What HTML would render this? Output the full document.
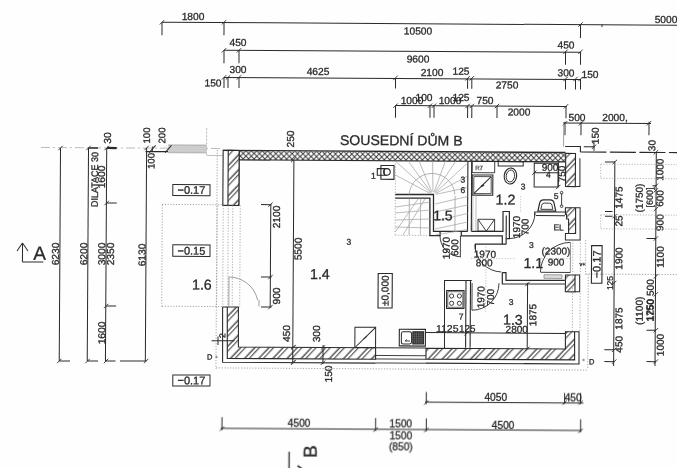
<!DOCTYPE html>
<html lang="cs"><head><meta charset="utf-8"><title>Půdorys 1.NP</title>
<style>
html,body{margin:0;padding:0;background:#fff;}
body{width:677px;height:468px;overflow:hidden;}
svg{display:block;font-family:"Liberation Sans",sans-serif;}
text{stroke:#2a2a2a;stroke-width:.3px;}
</style></head><body>
<svg width="677" height="468" viewBox="0 0 677 468">
<rect width="677" height="468" fill="#fefefe"/>
<defs>
<pattern id="h" patternUnits="userSpaceOnUse" width="4" height="10.3" patternTransform="rotate(-47)"><rect width="4" height="10.3" fill="#fff"/><path d="M0 2 H4 M0 5.3 H4" stroke="#2a2a2a" stroke-width="1" fill="none"/></pattern>
<pattern id="x" patternUnits="userSpaceOnUse" x="294.3" y="156.7" width="5.43" height="5.43"><rect width="5.43" height="5.43" fill="#fff"/><path d="M-1 -1 L6.43 6.43 M6.43 -1 L-1 6.43" stroke="#3a3a3a" stroke-width="1.0" fill="none"/></pattern>
<pattern id="g" patternUnits="userSpaceOnUse" width="2" height="2"><rect width="2" height="2" fill="#dedede"/><rect width="1" height="1" fill="#b4b4b4"/><rect x="1" y="1" width="1" height="1" fill="#c4c4c4"/></pattern>
<pattern id="d" patternUnits="userSpaceOnUse" width="1.8" height="1.8"><rect width="1.8" height="1.8" fill="#5a5a5a"/><rect width="0.9" height="0.9" fill="#1c1c1c"/></pattern>
<filter id="b" x="0" y="0" width="677" height="468" filterUnits="userSpaceOnUse"><feGaussianBlur stdDeviation="0.35"/></filter>
</defs>
<g filter="url(#b)"><g transform="rotate(0.344 338 234)">
<line x1="160.73" y1="23.26" x2="675.73" y2="23.26" stroke="#2a2a2a" stroke-width="1"/>
<line x1="160.77" y1="23.36" x2="160.77" y2="36.36" stroke="#2a2a2a" stroke-width="1"/>
<line x1="158.54" y1="25.57" x2="162.92" y2="21.14" stroke="#2a2a2a" stroke-width="0.9"/>
<line x1="222.77" y1="22.98" x2="222.77" y2="35.98" stroke="#2a2a2a" stroke-width="1"/>
<line x1="220.54" y1="25.2" x2="224.92" y2="20.77" stroke="#2a2a2a" stroke-width="0.9"/>
<line x1="579.28" y1="23.05" x2="579.28" y2="36.55" stroke="#2a2a2a" stroke-width="1"/>
<line x1="577.06" y1="25.26" x2="581.43" y2="20.83" stroke="#2a2a2a" stroke-width="0.9"/>
<line x1="600.75" y1="23.02" x2="600.75" y2="25.42" stroke="#2a2a2a" stroke-width="1"/>
<text x="191.72" y="20.87" font-size="10.2" text-anchor="middle" fill="#2a2a2a">1800</text>
<text x="416.8" y="34.02" font-size="10.2" text-anchor="middle" fill="#2a2a2a">10500</text>
<text x="664.73" y="21.03" font-size="10.2" text-anchor="middle" fill="#2a2a2a">5000</text>
<line x1="222.9" y1="50.88" x2="579.4" y2="50.88" stroke="#2a2a2a" stroke-width="1"/>
<line x1="222.94" y1="50.98" x2="222.94" y2="63.98" stroke="#2a2a2a" stroke-width="1"/>
<line x1="220.71" y1="53.2" x2="225.08" y2="48.77" stroke="#2a2a2a" stroke-width="0.9"/>
<line x1="237.94" y1="50.89" x2="237.94" y2="63.89" stroke="#2a2a2a" stroke-width="1"/>
<line x1="235.71" y1="53.11" x2="240.08" y2="48.68" stroke="#2a2a2a" stroke-width="0.9"/>
<line x1="564.45" y1="50.43" x2="564.45" y2="63.43" stroke="#2a2a2a" stroke-width="1"/>
<line x1="562.22" y1="52.65" x2="566.59" y2="48.22" stroke="#2a2a2a" stroke-width="0.9"/>
<line x1="579.45" y1="50.34" x2="579.45" y2="63.34" stroke="#2a2a2a" stroke-width="1"/>
<line x1="577.22" y1="52.56" x2="581.59" y2="48.13" stroke="#2a2a2a" stroke-width="0.9"/>
<text x="236.87" y="46.6" font-size="10.2" text-anchor="middle" fill="#2a2a2a">450</text>
<text x="416.97" y="62.12" font-size="10.2" text-anchor="middle" fill="#2a2a2a">9600</text>
<text x="564.89" y="47.23" font-size="10.2" text-anchor="middle" fill="#2a2a2a">450</text>
<line x1="223.06" y1="78.08" x2="579.56" y2="78.08" stroke="#2a2a2a" stroke-width="1"/>
<line x1="223.09" y1="78.08" x2="223.09" y2="88.58" stroke="#2a2a2a" stroke-width="1"/>
<line x1="220.87" y1="80.3" x2="225.25" y2="75.87" stroke="#2a2a2a" stroke-width="0.9"/>
<line x1="227.09" y1="78.06" x2="227.09" y2="88.56" stroke="#2a2a2a" stroke-width="1"/>
<line x1="224.87" y1="80.27" x2="229.25" y2="75.85" stroke="#2a2a2a" stroke-width="0.9"/>
<line x1="238.09" y1="77.99" x2="238.09" y2="88.49" stroke="#2a2a2a" stroke-width="1"/>
<line x1="235.87" y1="80.21" x2="240.25" y2="75.78" stroke="#2a2a2a" stroke-width="0.9"/>
<line x1="394.59" y1="77.56" x2="394.59" y2="88.06" stroke="#2a2a2a" stroke-width="1"/>
<line x1="392.38" y1="79.77" x2="396.75" y2="75.34" stroke="#2a2a2a" stroke-width="0.9"/>
<line x1="466.7" y1="77.52" x2="466.7" y2="88.02" stroke="#2a2a2a" stroke-width="1"/>
<line x1="464.48" y1="79.74" x2="468.85" y2="75.31" stroke="#2a2a2a" stroke-width="0.9"/>
<line x1="470.9" y1="77.5" x2="470.9" y2="88" stroke="#2a2a2a" stroke-width="1"/>
<line x1="468.68" y1="79.71" x2="473.05" y2="75.28" stroke="#2a2a2a" stroke-width="0.9"/>
<line x1="564.6" y1="77.64" x2="564.6" y2="88.14" stroke="#2a2a2a" stroke-width="1"/>
<line x1="562.38" y1="79.85" x2="566.76" y2="75.42" stroke="#2a2a2a" stroke-width="0.9"/>
<line x1="574.6" y1="77.58" x2="574.6" y2="88.08" stroke="#2a2a2a" stroke-width="1"/>
<line x1="572.38" y1="79.79" x2="576.76" y2="75.36" stroke="#2a2a2a" stroke-width="0.9"/>
<line x1="579.6" y1="77.55" x2="579.6" y2="88.05" stroke="#2a2a2a" stroke-width="1"/>
<line x1="577.38" y1="79.76" x2="581.76" y2="75.33" stroke="#2a2a2a" stroke-width="0.9"/>
<text x="212.12" y="87.25" font-size="10.2" text-anchor="middle" fill="#2a2a2a">150</text>
<text x="237.03" y="73.6" font-size="10.2" text-anchor="middle" fill="#2a2a2a">300</text>
<text x="317.05" y="75.12" font-size="10.2" text-anchor="middle" fill="#2a2a2a">4625</text>
<text x="431.05" y="75.44" font-size="10.2" text-anchor="middle" fill="#2a2a2a">2100</text>
<text x="460.04" y="73.96" font-size="10.2" text-anchor="middle" fill="#2a2a2a">125</text>
<text x="506.13" y="87.59" font-size="10.2" text-anchor="middle" fill="#2a2a2a">2750</text>
<text x="565.05" y="75.03" font-size="10.2" text-anchor="middle" fill="#2a2a2a">300</text>
<text x="589.06" y="76.49" font-size="10.2" text-anchor="middle" fill="#2a2a2a">150</text>
<line x1="394.73" y1="105.25" x2="565.93" y2="105.25" stroke="#2a2a2a" stroke-width="1"/>
<line x1="394.77" y1="105.36" x2="394.77" y2="117.36" stroke="#2a2a2a" stroke-width="1"/>
<line x1="392.54" y1="107.57" x2="396.92" y2="103.14" stroke="#2a2a2a" stroke-width="0.9"/>
<line x1="429.27" y1="105.15" x2="429.27" y2="117.15" stroke="#2a2a2a" stroke-width="1"/>
<line x1="427.04" y1="107.36" x2="431.42" y2="102.93" stroke="#2a2a2a" stroke-width="0.9"/>
<line x1="433.27" y1="105.12" x2="433.27" y2="117.12" stroke="#2a2a2a" stroke-width="1"/>
<line x1="431.04" y1="107.34" x2="435.42" y2="102.91" stroke="#2a2a2a" stroke-width="0.9"/>
<line x1="466.87" y1="105.22" x2="466.87" y2="117.22" stroke="#2a2a2a" stroke-width="1"/>
<line x1="464.65" y1="107.44" x2="469.02" y2="103.01" stroke="#2a2a2a" stroke-width="0.9"/>
<line x1="471.07" y1="105.2" x2="471.07" y2="117.2" stroke="#2a2a2a" stroke-width="1"/>
<line x1="468.85" y1="107.41" x2="473.22" y2="102.98" stroke="#2a2a2a" stroke-width="0.9"/>
<line x1="496.27" y1="105.05" x2="496.27" y2="117.05" stroke="#2a2a2a" stroke-width="1"/>
<line x1="494.05" y1="107.26" x2="498.42" y2="102.83" stroke="#2a2a2a" stroke-width="0.9"/>
<line x1="565.27" y1="104.93" x2="565.27" y2="116.93" stroke="#2a2a2a" stroke-width="1"/>
<line x1="563.05" y1="107.15" x2="567.42" y2="102.72" stroke="#2a2a2a" stroke-width="0.9"/>
<text x="411.22" y="103.56" font-size="10.2" text-anchor="middle" fill="#2a2a2a">1000</text>
<text x="423.2" y="100.48" font-size="10.2" text-anchor="middle" fill="#2a2a2a">100</text>
<text x="449.22" y="103.33" font-size="10.2" text-anchor="middle" fill="#2a2a2a">1000</text>
<text x="460.2" y="100.26" font-size="10.2" text-anchor="middle" fill="#2a2a2a">125</text>
<text x="484.22" y="103.12" font-size="10.2" text-anchor="middle" fill="#2a2a2a">750</text>
<text x="518.29" y="114.41" font-size="10.2" text-anchor="middle" fill="#2a2a2a">2000</text>
<line x1="562.34" y1="121.69" x2="650.34" y2="121.69" stroke="#2a2a2a" stroke-width="1"/>
<line x1="564.37" y1="120.44" x2="564.37" y2="133.94" stroke="#2a2a2a" stroke-width="1"/>
<line x1="562.15" y1="124.15" x2="566.52" y2="119.72" stroke="#2a2a2a" stroke-width="0.9"/>
<line x1="580.37" y1="120.34" x2="580.37" y2="133.84" stroke="#2a2a2a" stroke-width="1"/>
<line x1="578.15" y1="124.06" x2="582.52" y2="119.63" stroke="#2a2a2a" stroke-width="0.9"/>
<line x1="648.37" y1="119.93" x2="648.37" y2="133.43" stroke="#2a2a2a" stroke-width="1"/>
<line x1="646.15" y1="123.65" x2="650.52" y2="119.22" stroke="#2a2a2a" stroke-width="0.9"/>
<text x="576.32" y="119.57" font-size="10.2" text-anchor="middle" fill="#2a2a2a">500</text>
<text x="614.32" y="119.34" font-size="10.2" text-anchor="middle" fill="#2a2a2a">2000,</text>
<line x1="40.48" y1="149.24" x2="222.48" y2="149.24" stroke="#b5b5b5" stroke-width="0.9" stroke-dasharray="9 3 2 3"/>
<line x1="60" y1="149.66" x2="60" y2="362.67" stroke="#2a2a2a" stroke-width="1"/>
<line x1="88" y1="149.5" x2="88" y2="362.5" stroke="#2a2a2a" stroke-width="1"/>
<line x1="106.2" y1="149.39" x2="106.2" y2="362.39" stroke="#2a2a2a" stroke-width="1"/>
<line x1="146.1" y1="149.15" x2="146.1" y2="362.15" stroke="#2a2a2a" stroke-width="1"/>
<line x1="60.06" y1="362.64" x2="70.76" y2="362.64" stroke="#2a2a2a" stroke-width="1"/>
<line x1="88.36" y1="362.47" x2="98.76" y2="362.47" stroke="#2a2a2a" stroke-width="1"/>
<line x1="106.76" y1="362.36" x2="116.26" y2="362.36" stroke="#2a2a2a" stroke-width="1"/>
<line x1="120.76" y1="362.23" x2="146.96" y2="362.23" stroke="#2a2a2a" stroke-width="1"/>
<line x1="57.88" y1="364.89" x2="62.25" y2="360.46" stroke="#2a2a2a" stroke-width="0.9"/>
<line x1="86.18" y1="364.72" x2="90.55" y2="360.29" stroke="#2a2a2a" stroke-width="0.9"/>
<line x1="104.58" y1="364.61" x2="108.95" y2="360.18" stroke="#2a2a2a" stroke-width="0.9"/>
<line x1="144.78" y1="364.36" x2="149.15" y2="359.94" stroke="#2a2a2a" stroke-width="0.9"/>
<line x1="57.8" y1="151.88" x2="62.17" y2="147.45" stroke="#2a2a2a" stroke-width="0.9"/>
<line x1="85.8" y1="151.71" x2="90.17" y2="147.28" stroke="#2a2a2a" stroke-width="0.9"/>
<line x1="104" y1="151.6" x2="108.37" y2="147.17" stroke="#2a2a2a" stroke-width="0.9"/>
<line x1="143.9" y1="151.36" x2="148.27" y2="146.94" stroke="#2a2a2a" stroke-width="0.9"/>
<line x1="87.98" y1="149.47" x2="97.48" y2="149.47" stroke="#2a2a2a" stroke-width="1.6"/>
<line x1="106.48" y1="149.36" x2="116.18" y2="149.36" stroke="#2a2a2a" stroke-width="2.2"/>
<line x1="106.51" y1="204.36" x2="116.51" y2="204.36" stroke="#2a2a2a" stroke-width="1"/>
<line x1="104.33" y1="206.6" x2="108.7" y2="202.17" stroke="#2a2a2a" stroke-width="0.9"/>
<line x1="106.63" y1="307.36" x2="116.63" y2="307.36" stroke="#2a2a2a" stroke-width="1"/>
<line x1="104.45" y1="309.6" x2="108.82" y2="305.18" stroke="#2a2a2a" stroke-width="0.9"/>
<text x="110.42" y="139.36" font-size="10.2" text-anchor="middle" fill="#2a2a2a" transform="rotate(-90 110.42 139.36)">30</text>
<text x="97.67" y="180.94" font-size="9.5" text-anchor="middle" fill="#2a2a2a" transform="rotate(-90 97.67 180.94)" textLength="55" lengthAdjust="spacingAndGlyphs">DILATACE 30</text>
<text x="104.66" y="178.4" font-size="10.2" text-anchor="middle" fill="#2a2a2a" transform="rotate(-90 104.66 178.4)">1600</text>
<text x="59.12" y="255.67" font-size="10.2" text-anchor="middle" fill="#2a2a2a" transform="rotate(-90 59.12 255.67)">6230</text>
<text x="87.42" y="255.5" font-size="10.2" text-anchor="middle" fill="#2a2a2a" transform="rotate(-90 87.42 255.5)">6200</text>
<text x="105.42" y="255.4" font-size="10.2" text-anchor="middle" fill="#2a2a2a" transform="rotate(-90 105.42 255.4)">3000</text>
<text x="114.12" y="255.34" font-size="10.2" text-anchor="middle" fill="#2a2a2a" transform="rotate(-90 114.12 255.34)">2350</text>
<text x="145.63" y="256.15" font-size="10.2" text-anchor="middle" fill="#2a2a2a" transform="rotate(-90 145.63 256.15)">6130</text>
<text x="105.89" y="334.4" font-size="10.2" text-anchor="middle" fill="#2a2a2a" transform="rotate(-90 105.89 334.4)">1600</text>
<text x="149.41" y="136.63" font-size="9.6" text-anchor="middle" fill="#2a2a2a" transform="rotate(-90 149.41 136.63)">100</text>
<text x="164.61" y="136.54" font-size="9.6" text-anchor="middle" fill="#2a2a2a" transform="rotate(-90 164.61 136.54)">200</text>
<text x="154.16" y="162.1" font-size="9.6" text-anchor="middle" fill="#2a2a2a" transform="rotate(-90 154.16 162.1)">100</text>
<line x1="22.61" y1="244.89" x2="22.61" y2="263.89" stroke="#2a2a2a" stroke-width="1"/>
<line x1="22.55" y1="244.89" x2="17.1" y2="252.93" stroke="#2a2a2a" stroke-width="1"/>
<line x1="22.55" y1="244.89" x2="28.1" y2="252.86" stroke="#2a2a2a" stroke-width="1"/>
<line x1="22.67" y1="263.83" x2="43.47" y2="263.83" stroke="#2a2a2a" stroke-width="1"/>
<text x="33.35" y="261.63" font-size="19" text-anchor="start" fill="#2a2a2a">A</text>
<rect x="167.59" y="145.91" width="38.1" height="7.8" fill="url(#g)" stroke="none" stroke-width="0"/>
<line x1="167.57" y1="145.91" x2="205.67" y2="145.91" stroke="#999" stroke-width="0.7"/>
<line x1="167.61" y1="153.71" x2="205.71" y2="153.71" stroke="#999" stroke-width="0.7"/>
<line x1="145.01" y1="152.69" x2="167.51" y2="152.69" stroke="#2a2a2a" stroke-width="1.2"/>
<line x1="148.71" y1="153.73" x2="155.07" y2="146.49" stroke="#2a2a2a" stroke-width="1"/>
<line x1="164.61" y1="153.64" x2="170.97" y2="146.4" stroke="#2a2a2a" stroke-width="1"/>
<line x1="151.89" y1="147.61" x2="151.89" y2="152.71" stroke="#2a2a2a" stroke-width="0.9"/>
<line x1="206.05" y1="128.79" x2="206.05" y2="156.29" stroke="#b0b0b0" stroke-width="0.8" stroke-dasharray="2.5 1"/>
<line x1="206.13" y1="156.24" x2="222.53" y2="156.24" stroke="#b0b0b0" stroke-width="0.8"/>
<polygon points="238.5,151.59 565.01,151.63 565.07,160.44 238.55,160.39" fill="url(#x)" stroke="none" stroke-width="0"/>
<line x1="222.5" y1="151.09" x2="565" y2="151.09" stroke="#2a2a2a" stroke-width="1.4"/>
<line x1="238.56" y1="160.49" x2="565.06" y2="160.49" stroke="#2a2a2a" stroke-width="1.1"/>
<rect x="222.66" y="151.04" width="16" height="55" fill="none" stroke="#2a2a2a" stroke-width="1.1"/>
<rect x="227.76" y="151.03" width="10.9" height="55" fill="url(#h)" stroke="#2a2a2a" stroke-width="1.1"/>
<polygon points="227.74,307.66 238.84,307.6 239.08,347.6 376.28,347.57 376.35,358.97 228.05,359.06" fill="url(#h)" stroke="#2a2a2a" stroke-width="1.1"/>
<polyline points="223.04,307.69 227.74,307.66" fill="none" stroke="#2a2a2a" stroke-width="1.1"/>
<polyline points="223.04,307.69 223.37,362.89 376.37,362.87" fill="none" stroke="#2a2a2a" stroke-width="1.1"/>
<polygon points="426.69,347.67 566.09,347.64 565.99,330.34 575.19,330.28 575.36,358.48 426.75,358.57" fill="url(#h)" stroke="#2a2a2a" stroke-width="1.1"/>
<polyline points="426.77,362.57 579.78,362.55 579.59,330.25 575.19,330.28" fill="none" stroke="#2a2a2a" stroke-width="1.1"/>
<line x1="376.28" y1="347.52" x2="426.68" y2="347.52" stroke="#2a2a2a" stroke-width="1"/>
<line x1="376.33" y1="355.22" x2="426.73" y2="355.22" stroke="#2a2a2a" stroke-width="0.9"/>
<line x1="376.35" y1="358.72" x2="426.75" y2="358.72" stroke="#2a2a2a" stroke-width="0.9"/>
<line x1="376.37" y1="362.72" x2="426.77" y2="362.72" stroke="#2a2a2a" stroke-width="0.9"/>
<rect x="565.22" y="152" width="9.8" height="33.2" fill="url(#h)" stroke="#2a2a2a" stroke-width="1.1"/>
<polyline points="579.45,156.85 579.62,185.15 575.12,185.18" fill="none" stroke="#2a2a2a" stroke-width="1"/>
<polygon points="565.24,206.44 575.44,206.37 575.6,232.07 568.6,232.12 568.51,217.62 566.51,217.63 566.48,213.03 565.28,213.04" fill="url(#h)" stroke="#2a2a2a" stroke-width="1.1"/>
<polyline points="575.44,206.37 579.94,206.35 580.14,238.45 565.44,238.54 565.4,232.14 568.6,232.12" fill="none" stroke="#2a2a2a" stroke-width="1"/>
<rect x="565.7" y="273.61" width="9.6" height="16.8" fill="url(#h)" stroke="#2a2a2a" stroke-width="1.1"/>
<polyline points="575.25,273.58 579.85,273.55 579.95,290.35 575.35,290.38" fill="none" stroke="#2a2a2a" stroke-width="1"/>
<line x1="563.01" y1="122.65" x2="563.01" y2="145.15" stroke="#999" stroke-width="0.9"/>
<polyline points="564.58,145.14 579.88,145.05 579.91,150.55" fill="none" stroke="#2a2a2a" stroke-width="1.1"/>
<line x1="579.91" y1="150.53" x2="676.51" y2="150.53" stroke="#2a2a2a" stroke-width="1.2" stroke-dasharray="26 3.5"/>
<line x1="583.28" y1="145.29" x2="593.98" y2="145.29" stroke="#2a2a2a" stroke-width="1"/>
<line x1="593.48" y1="140.66" x2="593.48" y2="149.26" stroke="#2a2a2a" stroke-width="1"/>
<line x1="591.29" y1="147.48" x2="595.66" y2="143.05" stroke="#2a2a2a" stroke-width="0.9"/>
<line x1="293.46" y1="160.27" x2="293.46" y2="362.77" stroke="#2a2a2a" stroke-width="1"/>
<line x1="290.57" y1="162.48" x2="295.14" y2="158.05" stroke="#2a2a2a" stroke-width="0.9"/>
<line x1="291.69" y1="349.68" x2="296.27" y2="345.25" stroke="#2a2a2a" stroke-width="1"/>
<line x1="291.78" y1="364.88" x2="296.36" y2="360.45" stroke="#2a2a2a" stroke-width="1"/>
<text x="293.43" y="139.26" font-size="10.2" text-anchor="middle" fill="#2a2a2a" transform="rotate(-90 293.43 139.26)">250</text>
<text x="301.69" y="249.22" font-size="10.2" text-anchor="middle" fill="#2a2a2a" transform="rotate(-90 301.69 249.22)">5500</text>
<text x="290.6" y="333.89" font-size="10.2" text-anchor="middle" fill="#2a2a2a" transform="rotate(-90 290.6 333.89)">450</text>
<line x1="323.72" y1="345.09" x2="323.72" y2="364.09" stroke="#2a2a2a" stroke-width="1"/>
<line x1="321.49" y1="349.8" x2="325.87" y2="345.38" stroke="#2a2a2a" stroke-width="0.9"/>
<line x1="321.59" y1="365" x2="325.96" y2="360.58" stroke="#2a2a2a" stroke-width="0.9"/>
<text x="320.6" y="333.91" font-size="10.2" text-anchor="middle" fill="#2a2a2a" transform="rotate(-90 320.6 333.91)">300</text>
<text x="332.84" y="374.04" font-size="10.2" text-anchor="middle" fill="#2a2a2a" transform="rotate(-90 332.84 374.04)">150</text>
<line x1="270.63" y1="205" x2="270.63" y2="307.4" stroke="#2a2a2a" stroke-width="1"/>
<line x1="260.82" y1="205.03" x2="271.32" y2="205.03" stroke="#2a2a2a" stroke-width="1"/>
<line x1="268.14" y1="207.22" x2="272.51" y2="202.79" stroke="#2a2a2a" stroke-width="0.9"/>
<line x1="261.26" y1="277.43" x2="271.76" y2="277.43" stroke="#2a2a2a" stroke-width="1"/>
<line x1="268.57" y1="279.62" x2="272.94" y2="275.19" stroke="#2a2a2a" stroke-width="0.9"/>
<line x1="261.44" y1="307.43" x2="271.94" y2="307.43" stroke="#2a2a2a" stroke-width="1"/>
<line x1="268.75" y1="309.62" x2="273.12" y2="305.19" stroke="#2a2a2a" stroke-width="0.9"/>
<text x="279.9" y="217.35" font-size="10.2" text-anchor="middle" fill="#2a2a2a" transform="rotate(-90 279.9 217.35)">2100</text>
<text x="280.37" y="296.35" font-size="10.2" text-anchor="middle" fill="#2a2a2a" transform="rotate(-90 280.37 296.35)">900</text>
<rect x="172.54" y="185.48" width="37.2" height="11" fill="none" stroke="#2a2a2a" stroke-width="1"/>
<text x="191.16" y="194.68" font-size="11" text-anchor="middle" fill="#2a2a2a">−0.17</text>
<rect x="172.9" y="245.78" width="37.2" height="11.5" fill="none" stroke="#2a2a2a" stroke-width="1"/>
<text x="191.52" y="255.48" font-size="11" text-anchor="middle" fill="#2a2a2a">−0.15</text>
<rect x="173.68" y="375.88" width="37.2" height="11" fill="none" stroke="#2a2a2a" stroke-width="1"/>
<text x="192.3" y="385.08" font-size="11" text-anchor="middle" fill="#2a2a2a">−0.17</text>
<text x="192.33" y="290.38" font-size="14.2" text-anchor="start" fill="#2a2a2a">1.6</text>
<line x1="161.82" y1="205.47" x2="222.42" y2="205.47" stroke="#9a9a9a" stroke-width="0.9" stroke-dasharray="1.2 1.6"/>
<line x1="162.13" y1="205.66" x2="162.13" y2="307.46" stroke="#9a9a9a" stroke-width="0.9" stroke-dasharray="1.2 1.6"/>
<line x1="162.43" y1="307.27" x2="223.03" y2="307.27" stroke="#9a9a9a" stroke-width="0.9" stroke-dasharray="1.2 1.6"/>
<line x1="217.13" y1="206.13" x2="217.13" y2="307.73" stroke="#9a9a9a" stroke-width="0.8" stroke-dasharray="1.2 1.6"/>
<line x1="228.13" y1="206.06" x2="228.13" y2="307.66" stroke="#9a9a9a" stroke-width="0.8" stroke-dasharray="1.2 1.6"/>
<line x1="232.63" y1="206.03" x2="232.63" y2="307.63" stroke="#9a9a9a" stroke-width="0.8" stroke-dasharray="1.2 1.6"/>
<line x1="240.13" y1="205.99" x2="240.13" y2="307.59" stroke="#9a9a9a" stroke-width="0.8" stroke-dasharray="1.2 1.6"/>
<line x1="223.13" y1="206.09" x2="223.13" y2="307.69" stroke="#9a9a9a" stroke-width="0.8" stroke-dasharray="1.2 1.6"/>
<line x1="229.25" y1="277.65" x2="229.25" y2="307.05" stroke="#888" stroke-width="0.8"/>
<path d="M229.16 277.65 A29.4 29.4 0 0 1 258.06 300.77" fill="none" stroke="#888" stroke-width="0.8"/>
<line x1="259.4" y1="300.47" x2="259.43" y2="306.87" stroke="#888" stroke-width="0.8"/>
<line x1="212.14" y1="341.49" x2="235.14" y2="341.49" stroke="#2a2a2a" stroke-width="1"/>
<line x1="218.64" y1="337.22" x2="218.64" y2="345.72" stroke="#2a2a2a" stroke-width="1"/>
<text x="226.01" y="336.28" font-size="8.5" text-anchor="middle" fill="#2a2a2a" transform="rotate(-90 226.01 336.28)">2</text>
<text x="207.75" y="360.29" font-size="7.5" text-anchor="start" fill="#2a2a2a">D</text>
<circle cx="217.24" cy="357.73" r="1.2" fill="#999"/>
<line x1="216.75" y1="150.73" x2="216.75" y2="369.73" stroke="#9a9a9a" stroke-width="0.9" stroke-dasharray="1.2 1.6"/>
<line x1="216.81" y1="368.62" x2="588.81" y2="368.62" stroke="#9a9a9a" stroke-width="0.9" stroke-dasharray="1.2 1.6"/>
<line x1="588.53" y1="272.8" x2="588.53" y2="367.5" stroke="#9a9a9a" stroke-width="0.9" stroke-dasharray="1.2 1.6"/>
<line x1="586.24" y1="272.54" x2="677.24" y2="272.54" stroke="#9a9a9a" stroke-width="0.9" stroke-dasharray="1.2 1.6"/>
<line x1="572.91" y1="238.59" x2="572.91" y2="329.59" stroke="#9a9a9a" stroke-width="0.8" stroke-dasharray="1.2 1.6"/>
<line x1="580.51" y1="238.55" x2="580.51" y2="329.55" stroke="#9a9a9a" stroke-width="0.8" stroke-dasharray="1.2 1.6"/>
<line x1="585.74" y1="238.51" x2="585.74" y2="273.51" stroke="#9a9a9a" stroke-width="0.8" stroke-dasharray="1.2 1.6"/>
<text x="589.78" y="362.79" font-size="7.5" text-anchor="start" fill="#2a2a2a">D</text>
<circle cx="584.26" cy="358.53" r="1.2" fill="#999"/>
<text x="339.47" y="144.89" font-size="14" text-anchor="start" fill="#2a2a2a" textLength="122.5" lengthAdjust="spacingAndGlyphs">SOUSEDNÍ DŮM B</text>
<rect x="380.53" y="165.2" width="13.1" height="13.8" fill="none" stroke="#2a2a2a" stroke-width="1.1"/>
<rect x="376.93" y="168.34" width="7" height="6.7" fill="none" stroke="#2a2a2a" stroke-width="1.1"/>
<path d="M383.91 168.32 h2.6 a3.35 3.35 0 0 1 0 6.7 h-2.6" fill="none" stroke="#2a2a2a" stroke-width="1.1"/>
<path d="M386.51 168.31 a3.35 3.35 0 0 0 0 6.7" fill="none" stroke="#2a2a2a" stroke-width="1"/>
<text x="373.07" y="178.59" font-size="8.7" text-anchor="middle" fill="#2a2a2a">1</text>
<text x="349.06" y="244.73" font-size="8.5" text-anchor="middle" fill="#2a2a2a">3</text>
<text x="310.27" y="279.17" font-size="14.2" text-anchor="start" fill="#2a2a2a">1.4</text>
<rect x="378.44" y="273.22" width="14.1" height="34.5" fill="none" stroke="#2a2a2a" stroke-width="1.1"/>
<text x="388.94" y="290.4" font-size="10" text-anchor="middle" fill="#2a2a2a" transform="rotate(-90 388.94 290.4)">±0,000</text>
<rect x="355.52" y="327.14" width="20.7" height="20.3" fill="none" stroke="#2a2a2a" stroke-width="1"/>
<line x1="355.68" y1="347.4" x2="376.16" y2="327.07" stroke="#2a2a2a" stroke-width="1"/>
<line x1="364.13" y1="338.85" x2="367.61" y2="335.83" stroke="#2a2a2a" stroke-width="1"/>
<rect x="399.92" y="328.85" width="26.1" height="16.7" fill="none" stroke="#2a2a2a" stroke-width="1.1"/>
<rect x="401.99" y="331.42" width="10.2" height="12.2" rx="2" fill="none" stroke="#2a2a2a" stroke-width="1"/>
<rect x="413.42" y="331.32" width="10.8" height="12.2" fill="url(#d)" stroke="#2a2a2a" stroke-width="1"/>
<line x1="405.64" y1="340.6" x2="410.64" y2="340.57" stroke="#2a2a2a" stroke-width="0.9"/>
<line x1="405.64" y1="340.6" x2="407.63" y2="339.09" stroke="#2a2a2a" stroke-width="0.9"/>
<line x1="395.08" y1="160.46" x2="395.08" y2="235.06" stroke="#a0a0a0" stroke-width="0.8" stroke-dasharray="1.2 1.6"/>
<line x1="395.31" y1="234.95" x2="430.01" y2="234.95" stroke="#a0a0a0" stroke-width="0.8" stroke-dasharray="1.2 1.6"/>
<line x1="467.47" y1="160.42" x2="467.47" y2="230.62" stroke="#2a2a2a" stroke-width="1.1"/>
<line x1="471.27" y1="160.4" x2="471.27" y2="230.6" stroke="#2a2a2a" stroke-width="1.1"/>
<polyline points="395.06,194.16 433.26,193.93 433.48,230.73 467.48,230.52" fill="none" stroke="#2a2a2a" stroke-width="1.3"/>
<polyline points="395.09,197.86 429.69,197.65 429.91,235.15 440.11,235.09 440.08,230.69" fill="none" stroke="#2a2a2a" stroke-width="1.3"/>
<polyline points="461.28,230.56 461.31,235.06 502.31,234.91 502.36,243.21" fill="none" stroke="#2a2a2a" stroke-width="1.2"/>
<path d="M408.85 194.07 A23 23 0 0 1 454.68 193.79" fill="none" stroke="#a0a0a0" stroke-width="0.8"/>
<line x1="454.88" y1="195.3" x2="454.88" y2="230.3" stroke="#a0a0a0" stroke-width="0.8"/>
<line x1="409.1" y1="198.17" x2="409.1" y2="234.57" stroke="#a0a0a0" stroke-width="0.8"/>
<line x1="430.11" y1="193.04" x2="394.95" y2="174.66" stroke="#a0a0a0" stroke-width="0.7"/>
<line x1="430.53" y1="192.43" x2="394.86" y2="160.66" stroke="#a0a0a0" stroke-width="0.7"/>
<line x1="430.98" y1="192.02" x2="407.56" y2="160.38" stroke="#a0a0a0" stroke-width="0.7"/>
<line x1="431.61" y1="191.66" x2="418.56" y2="160.31" stroke="#a0a0a0" stroke-width="0.7"/>
<line x1="432.71" y1="191.43" x2="432.16" y2="160.23" stroke="#a0a0a0" stroke-width="0.7"/>
<line x1="433.78" y1="191.61" x2="445.06" y2="160.16" stroke="#a0a0a0" stroke-width="0.7"/>
<line x1="434.43" y1="191.93" x2="455.56" y2="160.09" stroke="#a0a0a0" stroke-width="0.7"/>
<line x1="434.95" y1="192.38" x2="467.07" y2="162.22" stroke="#a0a0a0" stroke-width="0.7"/>
<line x1="435.39" y1="192.97" x2="467.15" y2="175.22" stroke="#a0a0a0" stroke-width="0.7"/>
<line x1="435.69" y1="193.78" x2="467.22" y2="186.72" stroke="#a0a0a0" stroke-width="0.7"/>
<line x1="434.92" y1="203.42" x2="467.27" y2="195.72" stroke="#a0a0a0" stroke-width="0.7"/>
<line x1="434.97" y1="211.42" x2="467.33" y2="204.22" stroke="#a0a0a0" stroke-width="0.7"/>
<line x1="435.02" y1="220.42" x2="467.38" y2="212.72" stroke="#a0a0a0" stroke-width="0.7"/>
<line x1="435.07" y1="228.42" x2="467.43" y2="221.22" stroke="#a0a0a0" stroke-width="0.7"/>
<line x1="435.11" y1="234.42" x2="467.47" y2="228.72" stroke="#a0a0a0" stroke-width="0.7"/>
<line x1="395.14" y1="206.66" x2="430.01" y2="201.45" stroke="#a0a0a0" stroke-width="0.7"/>
<line x1="395.17" y1="212.66" x2="430.06" y2="209.45" stroke="#a0a0a0" stroke-width="0.7"/>
<line x1="395.22" y1="219.66" x2="430.11" y2="218.45" stroke="#a0a0a0" stroke-width="0.7"/>
<line x1="395.26" y1="226.66" x2="430.16" y2="227.45" stroke="#a0a0a0" stroke-width="0.7"/>
<line x1="395.29" y1="231.66" x2="417.79" y2="198.52" stroke="#a0a0a0" stroke-width="0.7"/>
<line x1="403.01" y1="234.61" x2="424.79" y2="198.48" stroke="#a0a0a0" stroke-width="0.7"/>
<line x1="420.4" y1="198.1" x2="420.4" y2="234.5" stroke="#a0a0a0" stroke-width="0.7"/>
<text x="462.69" y="181.65" font-size="8.5" text-anchor="middle" fill="#2a2a2a">3</text>
<text x="462.75" y="192.25" font-size="8.5" text-anchor="middle" fill="#2a2a2a">6</text>
<text x="433.12" y="219.73" font-size="14" text-anchor="start" fill="#2a2a2a">1.5</text>
<polyline points="471.48,230.6 502.98,230.41 502.87,210.51 509.26,210.47 509.43,237.57 506.23,237.59" fill="none" stroke="#2a2a2a" stroke-width="1.2"/>
<line x1="506.17" y1="214.39" x2="506.17" y2="243.19" stroke="#2a2a2a" stroke-width="1.1"/>
<polyline points="506.26,243.19 475.46,243.38 475.49,248.98" fill="none" stroke="#2a2a2a" stroke-width="1.2"/>
<rect x="471.8" y="160.53" width="22.5" height="11.3" fill="none" stroke="#2a2a2a" stroke-width="0.9"/>
<text x="478.62" y="169.15" font-size="6" text-anchor="middle" fill="#aaa">R7</text>
<rect x="471.91" y="174.13" width="20.6" height="20.2" fill="none" stroke="#2a2a2a" stroke-width="1.1"/>
<rect x="473.51" y="175.73" width="17.4" height="17" fill="none" stroke="#2a2a2a" stroke-width="0.8"/>
<line x1="473.56" y1="192.79" x2="490.86" y2="175.68" stroke="#2a2a2a" stroke-width="1"/>
<line x1="480.72" y1="185.74" x2="483.7" y2="183.92" stroke="#2a2a2a" stroke-width="1.6"/>
<line x1="475.87" y1="194.37" x2="475.87" y2="230.17" stroke="#a0a0a0" stroke-width="0.7"/>
<line x1="472.67" y1="194.39" x2="472.67" y2="230.19" stroke="#a0a0a0" stroke-width="0.7"/>
<rect x="477.95" y="218.41" width="16.6" height="11.9" fill="none" stroke="#2a2a2a" stroke-width="0.9"/>
<polyline points="477.91,218.46 486.28,230.31 494.51,218.36" fill="none" stroke="#2a2a2a" stroke-width="0.9"/>
<rect x="497.78" y="160.56" width="25" height="4.4" fill="none" stroke="#2a2a2a" stroke-width="1"/>
<ellipse cx="510.05" cy="174.97" rx="6.2" ry="8" fill="none" stroke="#2a2a2a" stroke-width="1.1" transform="rotate(8 510.05 174.97)"/>
<ellipse cx="510.05" cy="174.97" rx="4.2" ry="6" fill="none" stroke="#2a2a2a" stroke-width="0.9" transform="rotate(8 510.05 174.97)"/>
<text x="522.73" y="188.29" font-size="8.5" text-anchor="middle" fill="#2a2a2a">3</text>
<text x="495.42" y="203.55" font-size="14.2" text-anchor="start" fill="#2a2a2a">1.2</text>
<rect x="533.85" y="161.95" width="24" height="23.8" fill="none" stroke="#2a2a2a" stroke-width="1"/>
<line x1="533.83" y1="171.55" x2="557.83" y2="171.55" stroke="#2a2a2a" stroke-width="1"/>
<line x1="531.84" y1="173.63" x2="536.02" y2="169.41" stroke="#2a2a2a" stroke-width="0.9"/>
<text x="549.62" y="169.53" font-size="10" text-anchor="middle" fill="#2a2a2a">900</text>
<text x="548.16" y="176.24" font-size="8.5" text-anchor="middle" fill="#2a2a2a">4</text>
<text x="564.84" y="172.64" font-size="10" text-anchor="middle" fill="#2a2a2a" transform="rotate(-90 564.84 172.64)">750</text>
<line x1="557.85" y1="161.88" x2="557.85" y2="185.68" stroke="#2a2a2a" stroke-width="1"/>
<line x1="555.73" y1="187.89" x2="560.1" y2="183.47" stroke="#2a2a2a" stroke-width="0.9"/>
<line x1="555.59" y1="164.09" x2="559.96" y2="159.67" stroke="#2a2a2a" stroke-width="0.9"/>
<text x="555.99" y="197.69" font-size="8.5" text-anchor="middle" fill="#2a2a2a">5</text>
<line x1="561.39" y1="192.16" x2="561.39" y2="203.86" stroke="#2a2a2a" stroke-width="0.9"/>
<circle cx="561.35" cy="191.36" r="1.3" fill="none" stroke="#2a2a2a" stroke-width="0.9"/>
<circle cx="561.43" cy="204.86" r="1.3" fill="none" stroke="#2a2a2a" stroke-width="0.9"/>
<path d="M537.78 209.8 l1.6 -7.6 q0.6 -3.6 4 -3.6 h6.6 q3.4 0 4 3.6 l1.6 7.6 z" fill="none" stroke="#2a2a2a" stroke-width="1.2"/>
<path d="M540.68 208.1 l0.9 -4.2 q0.4 -2 2.4 -2 h5.4 q2 0 2.4 2 l0.9 4.2 z" fill="none" stroke="#2a2a2a" stroke-width="0.9"/>
<polyline points="534.59,214.42 534.57,210.82 565.47,210.63" fill="none" stroke="#2a2a2a" stroke-width="1.1"/>
<line x1="535.89" y1="214.32" x2="564.89" y2="214.32" stroke="#2a2a2a" stroke-width="1.1"/>
<path d="M509.93 237.55 A26 26 0 0 0 534.86 212.33" fill="none" stroke="#2a2a2a" stroke-width="0.9"/>
<text x="519.96" y="225.91" font-size="10" text-anchor="middle" fill="#2a2a2a" transform="rotate(-90 519.96 225.91)">1970</text>
<text x="528.56" y="225.86" font-size="10" text-anchor="middle" fill="#2a2a2a" transform="rotate(-90 528.56 225.86)">700</text>
<line x1="520.42" y1="194.9" x2="520.42" y2="211.9" stroke="#a0a0a0" stroke-width="0.6" stroke-dasharray="1.2 1.6"/>
<text x="558.58" y="229.08" font-size="8.5" text-anchor="middle" fill="#2a2a2a">EL</text>
<line x1="460.47" y1="235.07" x2="460.47" y2="255.87" stroke="#2a2a2a" stroke-width="0.9"/>
<path d="M461.14 256.06 A21 21 0 0 1 440.01 235.19" fill="none" stroke="#2a2a2a" stroke-width="0.9"/>
<text x="449.88" y="247.33" font-size="10" text-anchor="middle" fill="#2a2a2a" transform="rotate(-90 449.88 247.33)">1970</text>
<text x="458.28" y="246.88" font-size="10" text-anchor="middle" fill="#2a2a2a" transform="rotate(-90 458.28 246.88)">600</text>
<polyline points="502.53,271.61 502.6,283.01 565.1,282.64" fill="none" stroke="#2a2a2a" stroke-width="1.2"/>
<polyline points="502.53,271.61 506.23,271.59 506.28,279.39 565.08,279.04" fill="none" stroke="#2a2a2a" stroke-width="1.2"/>
<path d="M474.96 243.78 A27.4 27.4 0 0 0 501.57 271" fill="none" stroke="#2a2a2a" stroke-width="0.9"/>
<line x1="471.15" y1="257.57" x2="516.15" y2="257.57" stroke="#a0a0a0" stroke-width="0.6" stroke-dasharray="1.2 1.6"/>
<line x1="486.07" y1="245.71" x2="486.07" y2="311.11" stroke="#a0a0a0" stroke-width="0.6" stroke-dasharray="1.2 1.6"/>
<text x="485.04" y="256.72" font-size="10" text-anchor="middle" fill="#2a2a2a">1970</text>
<text x="484.39" y="265.32" font-size="10" text-anchor="middle" fill="#2a2a2a">800</text>
<text x="531.38" y="246.84" font-size="8.5" text-anchor="middle" fill="#2a2a2a">3</text>
<text x="556.12" y="253.29" font-size="10" text-anchor="middle" fill="#2a2a2a">(2300)</text>
<text x="556.19" y="264.29" font-size="10" text-anchor="middle" fill="#2a2a2a">900</text>
<text x="523.6" y="266.89" font-size="14.2" text-anchor="start" fill="#2a2a2a">1.1</text>
<path d="M540.63 271.19 A30 30 0 0 1 570.45 241.01" fill="none" stroke="#2a2a2a" stroke-width="0.9"/>
<line x1="570.54" y1="241.01" x2="570.54" y2="271.01" stroke="#777" stroke-width="0.8"/>
<line x1="541.23" y1="271.09" x2="570.63" y2="271.09" stroke="#2a2a2a" stroke-width="0.9"/>
<line x1="541.15" y1="257.19" x2="570.15" y2="257.19" stroke="#a0a0a0" stroke-width="0.6" stroke-dasharray="1.2 1.6"/>
<rect x="544.26" y="273.51" width="18" height="3.6" fill="#ddd" stroke="#888" stroke-width="0.8"/>
<text x="582.69" y="264.53" font-size="5.5" text-anchor="middle" fill="#2a2a2a">v+</text>
<line x1="466.28" y1="279.63" x2="466.28" y2="347.03" stroke="#2a2a2a" stroke-width="1.1"/>
<line x1="470.78" y1="279.61" x2="470.78" y2="347.01" stroke="#2a2a2a" stroke-width="1.1"/>
<line x1="472.38" y1="282.2" x2="472.38" y2="309.4" stroke="#2a2a2a" stroke-width="0.9"/>
<polyline points="472.08,279.6 444.78,279.76 445.18,347.36" fill="none" stroke="#2a2a2a" stroke-width="1"/>
<rect x="446.99" y="289.8" width="17.4" height="18" fill="none" stroke="#2a2a2a" stroke-width="1.1"/>
<rect x="448.19" y="291" width="15" height="15.6" fill="none" stroke="#2a2a2a" stroke-width="0.7"/>
<circle cx="451.97" cy="295.32" r="2.1" fill="none" stroke="#2a2a2a" stroke-width="0.9"/>
<circle cx="459.77" cy="295.27" r="2.1" fill="none" stroke="#2a2a2a" stroke-width="0.9"/>
<circle cx="452.02" cy="302.62" r="2.1" fill="none" stroke="#2a2a2a" stroke-width="0.9"/>
<circle cx="459.82" cy="302.57" r="2.1" fill="none" stroke="#2a2a2a" stroke-width="0.9"/>
<text x="461.51" y="318.86" font-size="8.5" text-anchor="middle" fill="#2a2a2a">7</text>
<path d="M472.46 309.4 A27 27 0 0 0 499.3 282.23" fill="none" stroke="#2a2a2a" stroke-width="0.9"/>
<text x="484.78" y="296.32" font-size="10" text-anchor="middle" fill="#2a2a2a" transform="rotate(-90 484.78 296.32)">1970</text>
<text x="494.38" y="296.36" font-size="10" text-anchor="middle" fill="#2a2a2a" transform="rotate(-90 494.38 296.36)">700</text>
<line x1="426.59" y1="332.05" x2="565.99" y2="332.05" stroke="#2a2a2a" stroke-width="1"/>
<line x1="465.11" y1="334.64" x2="469.58" y2="330.21" stroke="#2a2a2a" stroke-width="0.9"/>
<text x="436.59" y="331.41" font-size="10" text-anchor="start" fill="#2a2a2a" textLength="22.5" lengthAdjust="spacingAndGlyphs">1125</text>
<text x="459.59" y="331.27" font-size="10" text-anchor="start" fill="#2a2a2a" textLength="16.4" lengthAdjust="spacingAndGlyphs">125</text>
<text x="517.29" y="331.73" font-size="10" text-anchor="middle" fill="#2a2a2a">2800</text>
<text x="503.54" y="323.61" font-size="14.2" text-anchor="start" fill="#2a2a2a">1.3</text>
<text x="511.43" y="303.96" font-size="8.5" text-anchor="middle" fill="#2a2a2a">3</text>
<line x1="527.89" y1="281.66" x2="527.89" y2="347.66" stroke="#2a2a2a" stroke-width="1"/>
<line x1="525.51" y1="285.08" x2="529.89" y2="280.65" stroke="#2a2a2a" stroke-width="0.9"/>
<line x1="525.9" y1="349.88" x2="530.28" y2="345.45" stroke="#2a2a2a" stroke-width="0.9"/>
<text x="536.69" y="313.81" font-size="10" text-anchor="middle" fill="#2a2a2a" transform="rotate(-90 536.69 313.81)">1875</text>
<line x1="614.4" y1="159.84" x2="614.4" y2="364.34" stroke="#2a2a2a" stroke-width="1"/>
<line x1="604.57" y1="160.37" x2="614.57" y2="160.37" stroke="#2a2a2a" stroke-width="1"/>
<line x1="612.18" y1="162.55" x2="616.55" y2="158.13" stroke="#2a2a2a" stroke-width="0.9"/>
<line x1="604.87" y1="209.88" x2="612.37" y2="209.88" stroke="#2a2a2a" stroke-width="1.1"/>
<line x1="604.89" y1="214.58" x2="612.39" y2="214.58" stroke="#2a2a2a" stroke-width="1.1"/>
<line x1="612.31" y1="216.75" x2="616.68" y2="212.33" stroke="#2a2a2a" stroke-width="0.9"/>
<line x1="612.31" y1="283.56" x2="616.68" y2="279.13" stroke="#2a2a2a" stroke-width="0.9"/>
<line x1="604.99" y1="348.07" x2="615.09" y2="348.07" stroke="#2a2a2a" stroke-width="1"/>
<line x1="612.71" y1="350.26" x2="617.08" y2="345.83" stroke="#2a2a2a" stroke-width="0.9"/>
<line x1="605.07" y1="359.97" x2="615.17" y2="359.97" stroke="#2a2a2a" stroke-width="1"/>
<line x1="612.78" y1="362.16" x2="617.15" y2="357.73" stroke="#2a2a2a" stroke-width="0.9"/>
<text x="622.18" y="195.89" font-size="10" text-anchor="middle" fill="#2a2a2a" transform="rotate(-90 622.18 195.89)">1475</text>
<text x="622.32" y="219.29" font-size="10" text-anchor="middle" fill="#2a2a2a" transform="rotate(-90 622.32 219.29)">25</text>
<text x="622.55" y="256.79" font-size="10" text-anchor="middle" fill="#2a2a2a" transform="rotate(-90 622.55 256.79)">1900</text>
<text x="613.29" y="281.35" font-size="8.5" text-anchor="middle" fill="#2a2a2a" transform="rotate(-90 613.29 281.35)">125</text>
<text x="622.91" y="316.79" font-size="10" text-anchor="middle" fill="#2a2a2a" transform="rotate(-90 622.91 316.79)">1875</text>
<text x="623.06" y="342.59" font-size="10" text-anchor="middle" fill="#2a2a2a" transform="rotate(-90 623.06 342.59)">450</text>
<line x1="655.8" y1="150.09" x2="655.8" y2="364.09" stroke="#2a2a2a" stroke-width="1"/>
<line x1="653.22" y1="152.61" x2="657.6" y2="148.18" stroke="#2a2a2a" stroke-width="0.9"/>
<line x1="653.42" y1="186.11" x2="657.8" y2="181.68" stroke="#2a2a2a" stroke-width="0.9"/>
<line x1="653.45" y1="190.61" x2="657.82" y2="186.18" stroke="#2a2a2a" stroke-width="0.9"/>
<line x1="653.56" y1="209.31" x2="657.94" y2="204.88" stroke="#2a2a2a" stroke-width="0.9"/>
<line x1="653.74" y1="238.81" x2="658.11" y2="234.38" stroke="#2a2a2a" stroke-width="0.9"/>
<line x1="653.97" y1="276.71" x2="658.34" y2="272.28" stroke="#2a2a2a" stroke-width="0.9"/>
<line x1="654.08" y1="294.61" x2="658.45" y2="290.18" stroke="#2a2a2a" stroke-width="0.9"/>
<line x1="654.29" y1="330.51" x2="658.66" y2="326.08" stroke="#2a2a2a" stroke-width="0.9"/>
<line x1="654.48" y1="361.91" x2="658.85" y2="357.48" stroke="#2a2a2a" stroke-width="0.9"/>
<line x1="646.53" y1="236.62" x2="656.03" y2="236.62" stroke="#2a2a2a" stroke-width="1"/>
<line x1="647.08" y1="328.32" x2="656.58" y2="328.32" stroke="#2a2a2a" stroke-width="1"/>
<line x1="647.27" y1="359.72" x2="656.77" y2="359.72" stroke="#2a2a2a" stroke-width="1"/>
<line x1="652.21" y1="183.9" x2="655.71" y2="183.9" stroke="#2a2a2a" stroke-width="1"/>
<text x="654.87" y="143.7" font-size="10" text-anchor="middle" fill="#2a2a2a" transform="rotate(-90 654.87 143.7)">30</text>
<text x="663.01" y="167.75" font-size="10" text-anchor="middle" fill="#2a2a2a" transform="rotate(-90 663.01 167.75)">1000</text>
<text x="663.19" y="196.55" font-size="10" text-anchor="middle" fill="#2a2a2a" transform="rotate(-90 663.19 196.55)">600</text>
<text x="663.33" y="220.65" font-size="10" text-anchor="middle" fill="#2a2a2a" transform="rotate(-90 663.33 220.65)">900</text>
<text x="663.94" y="255.05" font-size="10" text-anchor="middle" fill="#2a2a2a" transform="rotate(-90 663.94 255.05)">1100</text>
<text x="654.12" y="285.71" font-size="10" text-anchor="middle" fill="#2a2a2a" transform="rotate(-90 654.12 285.71)">500</text>
<text x="664.47" y="343.05" font-size="10" text-anchor="middle" fill="#2a2a2a" transform="rotate(-90 664.47 343.05)">1000</text>
<text x="642.58" y="196.17" font-size="10" text-anchor="middle" fill="#2a2a2a" transform="rotate(-90 642.58 196.17)">(1750)</text>
<text x="652.58" y="195.61" font-size="9" text-anchor="middle" fill="#2a2a2a" transform="rotate(-90 652.58 195.61)">[600]</text>
<text x="643.26" y="308.97" font-size="10" text-anchor="middle" fill="#2a2a2a" transform="rotate(-90 643.26 308.97)">(1100)</text>
<text x="654.06" y="308.11" font-size="10" text-anchor="middle" fill="#2a2a2a" transform="rotate(-90 654.06 308.11)">1250</text>
<text x="654.06" y="308.51" font-size="10" text-anchor="middle" fill="#2a2a2a" transform="rotate(-90 654.06 308.51)">1750</text>
<text x="598.21" y="134.24" font-size="10" text-anchor="middle" fill="#2a2a2a" transform="rotate(-90 598.21 134.24)">150</text>
<line x1="600.28" y1="162.59" x2="676.58" y2="162.59" stroke="#b0b0b0" stroke-width="0.9" stroke-dasharray="1.2 1.6"/>
<line x1="600.37" y1="176.69" x2="676.67" y2="176.69" stroke="#b0b0b0" stroke-width="0.9" stroke-dasharray="1.2 1.6"/>
<line x1="600.32" y1="162.82" x2="600.32" y2="176.92" stroke="#b0b0b0" stroke-width="0.9" stroke-dasharray="1.2 1.6"/>
<line x1="600.59" y1="213.19" x2="676.89" y2="213.19" stroke="#b0b0b0" stroke-width="0.9" stroke-dasharray="1.2 1.6"/>
<line x1="600.67" y1="227.19" x2="676.97" y2="227.19" stroke="#b0b0b0" stroke-width="0.9" stroke-dasharray="1.2 1.6"/>
<line x1="600.63" y1="213.42" x2="600.63" y2="227.42" stroke="#b0b0b0" stroke-width="0.9" stroke-dasharray="1.2 1.6"/>
<rect x="591.68" y="244.05" width="10.5" height="37.6" fill="none" stroke="#2a2a2a" stroke-width="1.1"/>
<text x="600.78" y="262.82" font-size="11" text-anchor="middle" fill="#2a2a2a" transform="rotate(-90 600.78 262.82)">−0.17</text>
<line x1="426.01" y1="401.6" x2="584.41" y2="401.6" stroke="#2a2a2a" stroke-width="1"/>
<line x1="427.28" y1="391.47" x2="427.28" y2="403.47" stroke="#2a2a2a" stroke-width="1"/>
<line x1="425.12" y1="404.28" x2="429.5" y2="399.86" stroke="#2a2a2a" stroke-width="0.9"/>
<line x1="565.59" y1="391.64" x2="565.59" y2="402.64" stroke="#2a2a2a" stroke-width="1"/>
<line x1="563.42" y1="403.45" x2="567.8" y2="399.03" stroke="#2a2a2a" stroke-width="0.9"/>
<line x1="581.59" y1="391.54" x2="581.59" y2="402.54" stroke="#2a2a2a" stroke-width="1"/>
<line x1="579.42" y1="403.36" x2="583.8" y2="398.93" stroke="#2a2a2a" stroke-width="0.9"/>
<text x="496.8" y="399.95" font-size="10.2" text-anchor="middle" fill="#2a2a2a">4050</text>
<text x="574.2" y="399.79" font-size="10.2" text-anchor="middle" fill="#2a2a2a">450</text>
<line x1="221.87" y1="429.02" x2="582.77" y2="429.02" stroke="#2a2a2a" stroke-width="1"/>
<line x1="223.14" y1="417.9" x2="223.14" y2="430.9" stroke="#2a2a2a" stroke-width="1"/>
<line x1="220.98" y1="431.61" x2="225.35" y2="427.18" stroke="#2a2a2a" stroke-width="0.9"/>
<line x1="376.74" y1="417.87" x2="376.74" y2="430.87" stroke="#2a2a2a" stroke-width="1"/>
<line x1="374.59" y1="431.59" x2="378.96" y2="427.16" stroke="#2a2a2a" stroke-width="0.9"/>
<line x1="427.45" y1="417.87" x2="427.45" y2="430.87" stroke="#2a2a2a" stroke-width="1"/>
<line x1="425.29" y1="431.58" x2="429.66" y2="427.16" stroke="#2a2a2a" stroke-width="0.9"/>
<line x1="581.75" y1="417.84" x2="581.75" y2="430.84" stroke="#2a2a2a" stroke-width="1"/>
<line x1="579.59" y1="431.56" x2="583.97" y2="427.13" stroke="#2a2a2a" stroke-width="0.9"/>
<text x="300.16" y="426.93" font-size="10.2" text-anchor="middle" fill="#2a2a2a">4500</text>
<text x="401.96" y="427.42" font-size="10.2" text-anchor="middle" fill="#2a2a2a">1500</text>
<text x="504.17" y="427.61" font-size="10.2" text-anchor="middle" fill="#2a2a2a">4500</text>
<text x="402.03" y="439.42" font-size="10.2" text-anchor="middle" fill="#2a2a2a">1500</text>
<text x="402.1" y="450.22" font-size="10.2" text-anchor="middle" fill="#2a2a2a">(850)</text>
<line x1="290.46" y1="451.99" x2="290.46" y2="470.29" stroke="#2a2a2a" stroke-width="1.3"/>
<line x1="298.99" y1="466.04" x2="303.41" y2="468.82" stroke="#2a2a2a" stroke-width="1.6"/>
<text x="318.31" y="451.73" font-size="19" text-anchor="middle" fill="#2a2a2a" transform="rotate(-90 318.31 451.73)">B</text>
</g></g>
</svg>
</body></html>
